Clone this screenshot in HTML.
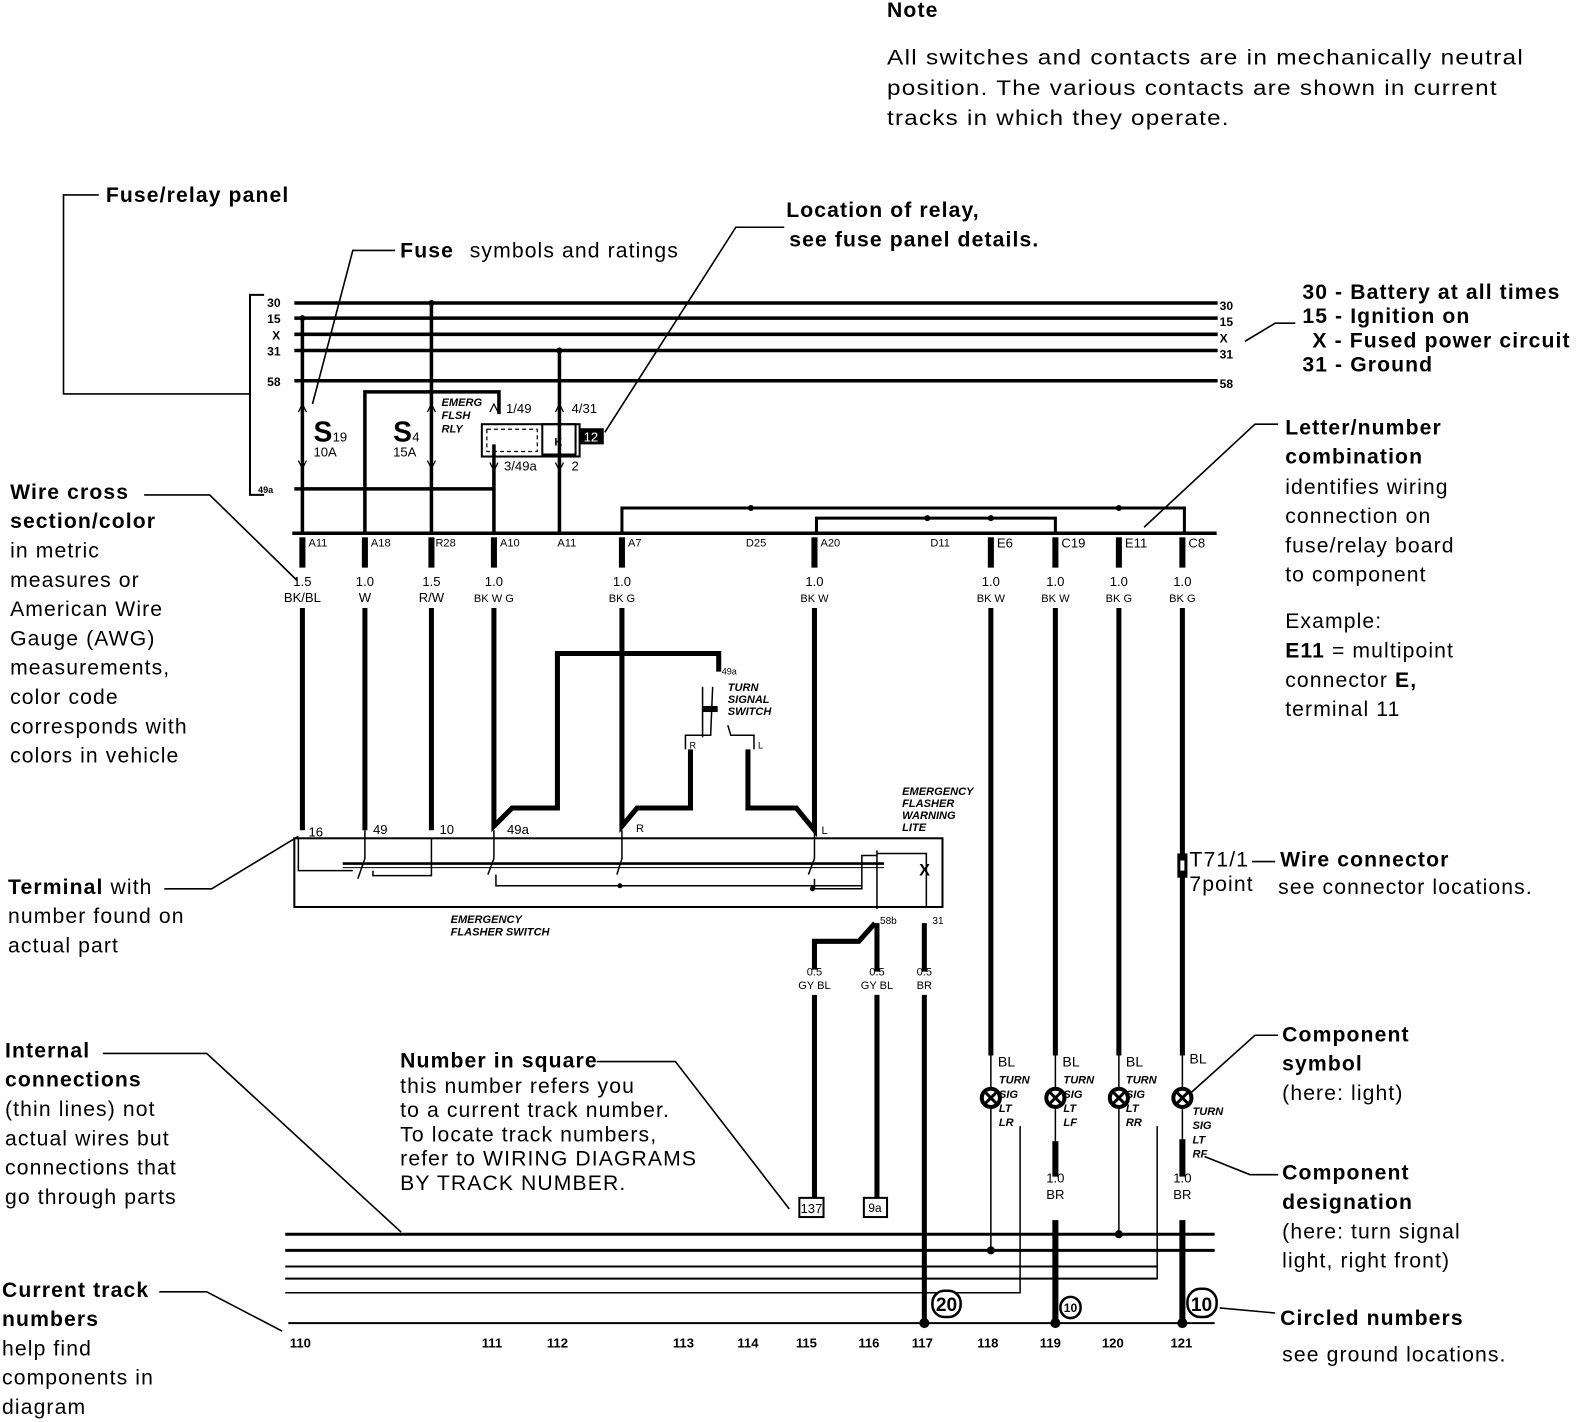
<!DOCTYPE html>
<html><head><meta charset="utf-8"><style>
html,body{margin:0;padding:0;background:#fff}
svg{display:block}
text{font-family:"Liberation Sans",sans-serif;fill:#000}
.b{font-weight:bold}
.a{font-size:21px;letter-spacing:1.1px}
.s{font-size:13px}
.t{font-size:11px;font-weight:bold;font-style:italic}
</style></head><body>
<svg width="1584" height="1422" viewBox="0 0 1584 1422" xmlns="http://www.w3.org/2000/svg">
<g transform="scale(1.008,1.01)" stroke="#000" fill="none" stroke-linecap="butt">
<g stroke="none">
<text x="880" y="17" class="a b">Note</text>
<text x="880" y="64" class="a" textLength="632" lengthAdjust="spacingAndGlyphs">All switches and contacts are in mechanically neutral</text>
<text x="880" y="94" class="a" textLength="606" lengthAdjust="spacingAndGlyphs">position. The various contacts are shown in current</text>
<text x="880" y="124" class="a" textLength="340" lengthAdjust="spacingAndGlyphs">tracks in which they operate.</text>
<text x="105" y="200" class="a b">Fuse/relay panel</text>
<text x="397" y="255" class="a b">Fuse</text><text x="466" y="255" class="a">symbols and ratings</text>
<text x="780" y="215" class="a b">Location of relay,</text>
<text x="783" y="244" class="a b">see fuse panel details.</text>
<text x="1292" y="296" class="a b">30 - Battery at all times</text>
<text x="1292" y="320" class="a b">15 - Ignition on</text>
<text x="1302" y="344" class="a b">X - Fused power circuit</text>
<text x="1292" y="368" class="a b">31 - Ground</text>
<text x="1275" y="430" class="a b">Letter/number</text>
<text x="1275" y="459" class="a b">combination</text>
<text x="1275" y="489" class="a">identifies wiring</text>
<text x="1275" y="518" class="a">connection on</text>
<text x="1275" y="547" class="a">fuse/relay board</text>
<text x="1275" y="576" class="a">to component</text>
<text x="1275" y="622" class="a">Example:</text>
<text x="1275" y="651" class="a"><tspan class="b">E11</tspan> = multipoint</text>
<text x="1275" y="680" class="a">connector <tspan class="b">E,</tspan></text>
<text x="1275" y="709" class="a">terminal 11</text>
<text x="10" y="494" class="a b">Wire cross</text>
<text x="10" y="523" class="a b">section/color</text>
<text x="10" y="552" class="a">in metric</text>
<text x="10" y="581" class="a">measures or</text>
<text x="10" y="610" class="a">American Wire</text>
<text x="10" y="639" class="a">Gauge (AWG)</text>
<text x="10" y="668" class="a">measurements,</text>
<text x="10" y="697" class="a">color code</text>
<text x="10" y="726" class="a">corresponds with</text>
<text x="10" y="755" class="a">colors in vehicle</text>
<text x="8" y="885" class="a"><tspan class="b">Terminal</tspan> with</text>
<text x="8" y="914" class="a">number found on</text>
<text x="8" y="943" class="a">actual part</text>
<text x="5" y="1047" class="a b">Internal</text>
<text x="5" y="1076" class="a b">connections</text>
<text x="5" y="1105" class="a">(thin lines) not</text>
<text x="5" y="1134" class="a">actual wires but</text>
<text x="5" y="1163" class="a">connections that</text>
<text x="5" y="1192" class="a">go through parts</text>
<text x="2" y="1284" class="a b">Current track</text>
<text x="2" y="1313" class="a b">numbers</text>
<text x="2" y="1342" class="a">help find</text>
<text x="2" y="1371" class="a">components in</text>
<text x="2" y="1400" class="a">diagram</text>
<text x="397" y="1057" class="a b">Number in square</text>
<text x="397" y="1082" class="a">this number refers you</text>
<text x="397" y="1106" class="a">to a current track number.</text>
<text x="397" y="1130" class="a">To locate track numbers,</text>
<text x="397" y="1154" class="a">refer to WIRING DIAGRAMS</text>
<text x="397" y="1178" class="a">BY TRACK NUMBER.</text>
<text x="1180" y="858" class="a">T71/1</text>
<text x="1180" y="882" class="a">7point</text>
<text x="1270" y="858" class="a b">Wire connector</text>
<text x="1268" y="885" class="a">see connector locations.</text>
<text x="1272" y="1031" class="a b">Component</text>
<text x="1272" y="1060" class="a b">symbol</text>
<text x="1272" y="1089" class="a">(here: light)</text>
<text x="1272" y="1168" class="a b">Component</text>
<text x="1272" y="1197" class="a b">designation</text>
<text x="1272" y="1226" class="a">(here: turn signal</text>
<text x="1272" y="1255" class="a">light, right front)</text>
<text x="1270" y="1312" class="a b">Circled numbers</text>
<text x="1272" y="1348" class="a">see ground locations.</text>
</g>
<g stroke-width="1.6">
<polyline points="98,193 63,193 63,390 248,390"/>
<polyline points="392,248 350,248 310,400"/>
<polyline points="778,225 730,225 600,428"/>
<polyline points="1285,320 1265,320 1235,338"/>
<polyline points="1268,420 1245,420 1135,522"/>
<polyline points="143,490 208,490 295,575"/>
<polyline points="163,880 210,880 296,828"/>
<polyline points="102,1043 205,1043 398,1220"/>
<polyline points="158,1279 205,1279 280,1318"/>
<polyline points="592,1051 670,1051 783,1197"/>
<line x1="1242" y1="853" x2="1265" y2="853"/>
<polyline points="1268,1025 1245,1025 1178,1085"/>
<polyline points="1268,1163 1240,1163 1195,1145"/>
<line x1="1210" y1="1295" x2="1265" y2="1300"/>
</g>
<polyline points="262,292 248,292 248,490 262,490" stroke-width="2"/>
<g stroke="none" font-size="12" font-weight="bold">
<text x="265" y="304">30</text><text x="265" y="320">15</text><text x="270" y="336">X</text><text x="265" y="352">31</text><text x="265" y="382">58</text>
<text x="256" y="488" font-size="9">49a</text>
<text x="1210" y="307">30</text><text x="1210" y="323">15</text><text x="1210" y="339">X</text><text x="1210" y="355">31</text><text x="1210" y="384">58</text>
</g>
<g stroke-width="3.5">
<line x1="292" y1="300" x2="1208" y2="300"/>
<line x1="292" y1="315" x2="1208" y2="315"/>
<line x1="292" y1="331" x2="1208" y2="331"/>
<line x1="292" y1="347" x2="1208" y2="347"/>
<line x1="292" y1="377" x2="1208" y2="377"/>
<line x1="292" y1="484" x2="490" y2="484"/>
<line x1="290" y1="528" x2="1207" y2="528"/>
<line x1="300" y1="315" x2="300" y2="528"/>
<polyline points="362,528 362,388 495,388 495,410"/>
<line x1="428" y1="300" x2="428" y2="528"/>
<line x1="490" y1="440" x2="490" y2="528"/>
<line x1="555" y1="347" x2="555" y2="528"/>
</g>
<g stroke-width="3">
<polyline points="617,528 617,503 1175,503 1175,528"/>
<polyline points="810,528 810,513 1047,513 1047,528"/>
</g>
<g fill="#000" stroke="none">
<circle cx="428" cy="300" r="3"/><circle cx="300" cy="315" r="3"/><circle cx="555" cy="347" r="3"/>
<circle cx="745" cy="503" r="3"/><circle cx="1110" cy="503" r="3"/><circle cx="920" cy="513" r="3"/><circle cx="983" cy="513" r="3"/>
</g>
<g stroke-width="1.2">
<polyline points="296,408 300,400 304,408"/><polyline points="296,456 300,464 304,456"/>
<polyline points="424,408 428,400 432,408"/><polyline points="424,456 428,464 432,456"/>
<polyline points="486,408 490,400 494,408"/><polyline points="551,408 555,400 559,408"/>
<polyline points="486,458 490,466 494,458"/><polyline points="551,458 555,466 559,458"/>
</g>
<g stroke="none">
<text x="311" y="437" font-size="28" class="b">S</text><text x="330" y="437" font-size="13">19</text>
<text x="311" y="452" font-size="13">10A</text>
<text x="390" y="437" font-size="28" class="b">S</text><text x="409" y="437" font-size="13">4</text>
<text x="390" y="452" font-size="13">15A</text>
<text x="438" y="402" class="t" font-size="9">EMERG</text><text x="438" y="415" class="t" font-size="9">FLSH</text><text x="438" y="428" class="t" font-size="9">RLY</text>
<text x="502" y="409" font-size="13">1/49</text><text x="567" y="409" font-size="13">4/31</text>
<text x="500" y="466" font-size="13">3/49a</text><text x="567" y="466" font-size="13">2</text>
</g>
<rect x="478" y="420" width="97" height="32" stroke-width="2"/>
<rect x="538" y="420" width="33" height="30" stroke-width="2"/>
<rect x="483" y="425" width="50" height="22" stroke-width="1.2" stroke-dasharray="4 3"/>
<text x="550" y="441" font-size="11" class="b" stroke="none">K</text>
<rect x="575" y="424" width="24" height="16" fill="#000" stroke="none"/>
<text x="579" y="437" font-size="13" stroke="none" style="fill:#fff">12</text>
<g stroke="none" font-size="11">
<text x="306" y="541">A11</text><text x="368" y="541">A18</text><text x="432" y="541">R28</text><text x="496" y="541">A10</text><text x="553" y="541">A11</text>
<text x="623" y="541">A7</text><text x="740" y="541">D25</text><text x="814" y="541">A20</text><text x="923" y="541">D11</text>
<text x="989" y="542" font-size="13">E6</text><text x="1053" y="542" font-size="13">C19</text><text x="1116" y="542" font-size="13">E11</text><text x="1179" y="542" font-size="13">C8</text>
</g>
<g stroke-width="6">
<line x1="300" y1="532" x2="300" y2="562"/><line x1="362" y1="532" x2="362" y2="562"/><line x1="428" y1="532" x2="428" y2="562"/><line x1="490" y1="532" x2="490" y2="562"/>
<line x1="617" y1="532" x2="617" y2="562"/><line x1="808" y1="532" x2="808" y2="562"/><line x1="983" y1="532" x2="983" y2="562"/><line x1="1047" y1="532" x2="1047" y2="562"/><line x1="1110" y1="532" x2="1110" y2="562"/><line x1="1173" y1="532" x2="1173" y2="562"/>
</g>
<g stroke="none" font-size="13" text-anchor="middle">
<text x="300" y="580">1.5</text><text x="300" y="596">BK/BL</text>
<text x="362" y="580">1.0</text><text x="362" y="596">W</text>
<text x="428" y="580">1.5</text><text x="428" y="596">R/W</text>
<text x="490" y="580">1.0</text><text x="490" y="596" font-size="11">BK W G</text>
<text x="617" y="580">1.0</text><text x="617" y="596" font-size="11">BK G</text>
<text x="808" y="580">1.0</text><text x="808" y="596" font-size="11">BK W</text>
<text x="983" y="580">1.0</text><text x="983" y="596" font-size="11">BK W</text>
<text x="1047" y="580">1.0</text><text x="1047" y="596" font-size="11">BK W</text>
<text x="1110" y="580">1.0</text><text x="1110" y="596" font-size="11">BK G</text>
<text x="1173" y="580">1.0</text><text x="1173" y="596" font-size="11">BK G</text>
</g>
<g stroke-width="5" stroke-linejoin="miter">
<line x1="300" y1="602" x2="300" y2="822"/>
<line x1="362" y1="602" x2="362" y2="822"/>
<line x1="428" y1="602" x2="428" y2="822"/>
<polyline points="490,602 490,818 508,800 553,800 553,647 713,647 713,665"/>
<polyline points="617,602 617,818 632,800 685,800 685,742"/>
<polyline points="808,602 808,822 790,800 742,800 742,742"/>
<line x1="983" y1="602" x2="983" y2="1045"/>
<line x1="1047" y1="602" x2="1047" y2="1045"/>
<line x1="1110" y1="602" x2="1110" y2="1045"/>
<line x1="1173" y1="602" x2="1173" y2="1045"/>
</g>
<g stroke-width="1.5">
<line x1="697" y1="680" x2="697" y2="730"/>
<polyline points="680,742 680,728 705,728 707,680"/>
<polyline points="748,742 748,728 725,728 722,718"/>
</g>
<rect x="697" y="699" width="15" height="6" fill="#000" stroke="none"/>
<g stroke="none">
<text x="716" y="668" font-size="9">49a</text>
<text x="722" y="684" class="t" font-size="8">TURN</text><text x="722" y="696" class="t" font-size="8">SIGNAL</text><text x="722" y="708" class="t" font-size="8">SWITCH</text>
<text x="684" y="741" font-size="9">R</text><text x="752" y="741" font-size="9">L</text>
<text x="895" y="787" class="t" font-size="8">EMERGENCY</text><text x="895" y="799" class="t" font-size="8">FLASHER</text><text x="895" y="811" class="t" font-size="8">WARNING</text><text x="895" y="823" class="t" font-size="8">LITE</text>
<text x="306" y="828" font-size="13">16</text><text x="370" y="826" font-size="13">49</text><text x="436" y="826" font-size="13">10</text><text x="503" y="826" font-size="13">49a</text><text x="631" y="824" font-size="11">R</text><text x="815" y="826" font-size="11">L</text>
<text x="447" y="914" class="t" font-size="8">EMERGENCY</text><text x="447" y="926" class="t" font-size="8">FLASHER SWITCH</text>
<text x="873" y="915" font-size="10">58b</text><text x="925" y="915" font-size="10">31</text>
</g>
<rect x="292" y="830" width="643" height="68" stroke-width="2"/>
<g stroke-width="1.5">
<polyline points="296,830 296,862 350,862"/>
<line x1="340" y1="855" x2="877" y2="855" stroke-width="2.5"/>
<line x1="340" y1="859" x2="877" y2="859" stroke-width="1"/>
<polyline points="362,822 362,850 355,870"/>
<polyline points="370,862 370,867 428,867 428,830"/>
<polyline points="490,822 490,850 484,866"/>
<polyline points="492,866 492,877 855,877"/>
<polyline points="617,822 617,850 612,866"/>
<polyline points="808,822 808,850 802,866"/>
<polyline points="808,870 808,880 855,880 855,847 870,847"/>
<polyline points="870,842 870,900"/>
<polyline points="870,845 919,845 919,898"/>
</g>
<text x="912" y="867" font-size="16" class="b" stroke="none">X</text>
<circle cx="615" cy="877" r="2.5" fill="#000" stroke="none"/>
<circle cx="806" cy="880" r="2.5" fill="#000" stroke="none"/>
<g stroke-width="5">
<polyline points="808,960 808,932 852,932 868,914"/>
<line x1="870" y1="914" x2="870" y2="962"/>
<line x1="917" y1="914" x2="917" y2="962"/>
<line x1="808" y1="985" x2="808" y2="1186"/>
<line x1="870" y1="985" x2="870" y2="1186"/>
<line x1="917" y1="985" x2="917" y2="1310"/>
</g>
<g stroke="none" font-size="11" text-anchor="middle">
<text x="808" y="966">0.5</text><text x="808" y="979">GY BL</text>
<text x="870" y="966">0.5</text><text x="870" y="979">GY BL</text>
<text x="917" y="966">0.5</text><text x="917" y="979">BR</text>
</g>
<rect x="793" y="1186" width="24" height="19" stroke-width="2"/>
<text x="805" y="1201" font-size="13" text-anchor="middle" stroke="none">137</text>
<rect x="857" y="1186" width="23" height="19" stroke-width="2"/>
<text x="868" y="1200" font-size="12" text-anchor="middle" stroke="none">9a</text>
<g stroke-width="1.5">
<line x1="983" y1="1045" x2="983" y2="1238"/>
<line x1="1047" y1="1045" x2="1047" y2="1130"/>
<line x1="1110" y1="1045" x2="1110" y2="1222"/>
<line x1="1173" y1="1045" x2="1173" y2="1130"/>
<polyline points="1012,1115 1012,1280 283,1280"/>
<polyline points="1148,1115 1148,1266 283,1266"/>
</g>
<g stroke-width="4">
<circle cx="983" cy="1087" r="9" fill="#fff"/><circle cx="1047" cy="1087" r="9" fill="#fff"/><circle cx="1110" cy="1087" r="9" fill="#fff"/><circle cx="1173" cy="1087" r="9" fill="#fff"/>
</g>
<g stroke-width="3">
<line x1="977" y1="1081" x2="989" y2="1093"/><line x1="989" y1="1081" x2="977" y2="1093"/>
<line x1="1041" y1="1081" x2="1053" y2="1093"/><line x1="1053" y1="1081" x2="1041" y2="1093"/>
<line x1="1104" y1="1081" x2="1116" y2="1093"/><line x1="1116" y1="1081" x2="1104" y2="1093"/>
<line x1="1167" y1="1081" x2="1179" y2="1093"/><line x1="1179" y1="1081" x2="1167" y2="1093"/>
</g>
<g stroke-width="6">
<line x1="1047" y1="1130" x2="1047" y2="1165"/><line x1="1173" y1="1128" x2="1173" y2="1165"/>
<line x1="1047" y1="1208" x2="1047" y2="1310"/><line x1="1173" y1="1208" x2="1173" y2="1310"/>
</g>
<g stroke="none">
<text x="990" y="1056" font-size="14">BL</text><text x="1054" y="1056" font-size="14">BL</text><text x="1117" y="1056" font-size="14">BL</text><text x="1180" y="1053" font-size="14">BL</text>
<g class="t" font-size="12">
<text x="991" y="1073">TURN</text><text x="991" y="1087">SIG</text><text x="991" y="1101">LT</text><text x="991" y="1115">LR</text>
<text x="1055" y="1073">TURN</text><text x="1055" y="1087">SIG</text><text x="1055" y="1101">LT</text><text x="1055" y="1115">LF</text>
<text x="1117" y="1073">TURN</text><text x="1117" y="1087">SIG</text><text x="1117" y="1101">LT</text><text x="1117" y="1115">RR</text>
<text x="1183" y="1104">TURN</text><text x="1183" y="1118">SIG</text><text x="1183" y="1132">LT</text><text x="1183" y="1146">RF</text>
</g>
<text x="1047" y="1171" font-size="13" text-anchor="middle">1.0</text><text x="1047" y="1187" font-size="13" text-anchor="middle">BR</text>
<text x="1173" y="1171" font-size="13" text-anchor="middle">1.0</text><text x="1173" y="1187" font-size="13" text-anchor="middle">BR</text>
</g>
<rect x="1168" y="845" width="10" height="24" fill="#000" stroke="none"/>
<rect x="1171" y="852" width="4" height="10" fill="#fff" stroke="none"/>
<g stroke-width="3">
<line x1="283" y1="1222" x2="1205" y2="1222"/>
<line x1="283" y1="1238" x2="1205" y2="1238"/>
</g>
<g stroke-width="2">
<line x1="283" y1="1254" x2="1148" y2="1254"/>
<line x1="283" y1="1266" x2="1148" y2="1266"/>
<line x1="286" y1="1310" x2="1205" y2="1310"/>
</g>
<g fill="#000" stroke="none">
<circle cx="983" cy="1238" r="4"/><circle cx="1110" cy="1222" r="4"/>
<circle cx="917" cy="1310" r="5"/><circle cx="1047" cy="1310" r="5"/><circle cx="1173" cy="1310" r="5"/>
</g>
<g stroke-width="2.5" fill="#fff">
<rect x="925" y="1278" width="28" height="26" rx="12"/>
<rect x="1052" y="1284" width="20" height="21" rx="10"/>
<rect x="1178" y="1276" width="29" height="28" rx="13"/>
</g>
<g stroke="none" class="b" text-anchor="middle">
<text x="939" y="1298" font-size="19">20</text>
<text x="1062" y="1299" font-size="12">10</text>
<text x="1192" y="1298" font-size="19">10</text>
</g>
<g stroke="none" font-size="13" class="b" text-anchor="middle">
<text x="298" y="1334">110</text><text x="488" y="1334">111</text><text x="553" y="1334">112</text><text x="678" y="1334">113</text><text x="742" y="1334">114</text><text x="800" y="1334">115</text><text x="862" y="1334">116</text><text x="915" y="1334">117</text><text x="980" y="1334">118</text><text x="1042" y="1334">119</text><text x="1104" y="1334">120</text><text x="1172" y="1334">121</text>
</g>
</g>
</svg>
</body></html>
